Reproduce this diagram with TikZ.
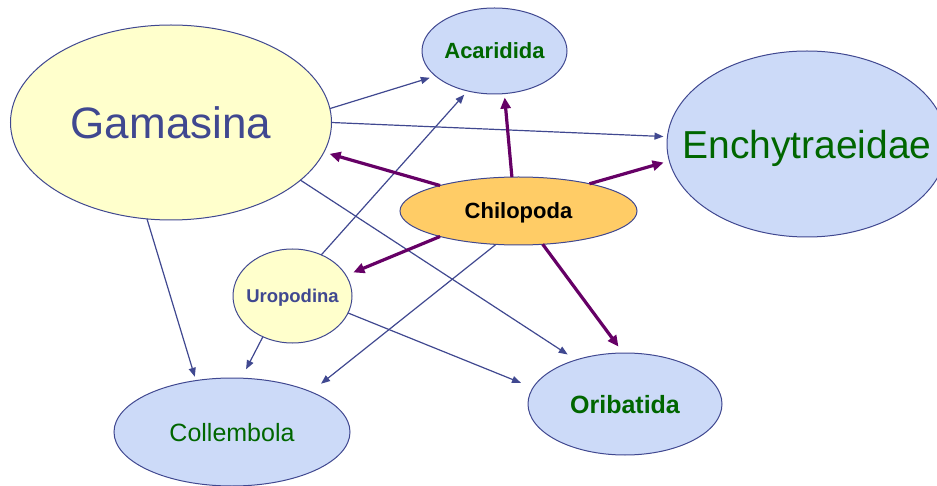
\documentclass[tikz,border=0pt]{standalone}
\usepackage{fontspec}
\setmainfont{Liberation Sans}
\usetikzlibrary{shapes.geometric,arrows.meta}
\definecolor{lineblue}{HTML}{404890}
\definecolor{arrpurple}{HTML}{660066}
\definecolor{fillyellow}{HTML}{FFFFCC}
\definecolor{fillblue}{HTML}{CCDAF8}
\definecolor{fillorange}{HTML}{FFCC66}
\definecolor{txtgreen}{HTML}{006600}
\definecolor{txtblue}{HTML}{404890}
\newcommand{\zw}[1]{\makebox[0pt]{#1}}
\begin{document}
\begin{tikzpicture}[x=1pt,y=-1pt,
  taxon/.style={ellipse, draw=lineblue, line width=1pt, inner sep=0pt, outer sep=0pt, text depth=0pt},
  yellowtaxon/.style={taxon, fill=fillyellow, text=txtblue},
  bluetaxon/.style={taxon, fill=fillblue, text=txtgreen},
  blueedge/.style={draw=lineblue, line width=1.2pt, -{Triangle[length=9pt,width=7pt]}},
  purpleedge/.style={draw=arrpurple, line width=3.2pt, -{Triangle[length=11pt,width=10pt]}}]
\clip (0,0) rectangle (937,486);
\useasboundingbox (0,0) rectangle (937,486);
% nodes
\node[yellowtaxon, minimum width=321pt, minimum height=195pt, font=\fontsize{44}{44}\selectfont] (gam) at (171,122.5) {\zw{Gamasina}};
\node[bluetaxon, minimum width=145pt, minimum height=86pt, font=\fontsize{22}{22}\selectfont\bfseries] (aca) at (494.5,51) {\zw{Acaridida}};
\node[bluetaxon, minimum width=280pt, minimum height=186pt, font=\fontsize{39}{39}\selectfont] (enc) at (807,144) {\zw{Enchytraeidae}};
\node[taxon, fill=fillorange, text=black, minimum width=237pt, minimum height=68pt, font=\fontsize{22}{22}\selectfont\bfseries] (chi) at (518.5,211) {\zw{Chilopoda}};
\node[yellowtaxon, minimum width=119pt, minimum height=94pt, font=\fontsize{18.5}{18.5}\selectfont\bfseries] (uro) at (292.5,296) {\zw{Uropodina}};
\node[bluetaxon, minimum width=236pt, minimum height=108pt, font=\fontsize{25}{25}\selectfont] (col) at (232,432) {\zw{Collembola}};
\node[bluetaxon, minimum width=194pt, minimum height=102pt, font=\fontsize{25}{25}\selectfont\bfseries] (ori) at (625,404) {\zw{Oribatida}};
% blue edges
\draw[blueedge, shorten >=6pt] (gam.5) -- (aca.203);
\draw[blueedge, shorten >=4pt] (gam.0) -- (enc.177);
\draw[blueedge, shorten >=5pt] (uro.55) -- (aca.236);
\draw[blueedge, shorten >=10pt] (gam.336) -- (ori.138);
\draw[blueedge, shorten >=10pt] (uro.234) -- (col.80);
\draw[blueedge, shorten >=13pt] (chi.236) -- (col.27);
\draw[blueedge, shorten >=13pt] (uro.343) -- (ori.170);
\draw[blueedge, shorten >=4pt] (gam.256) -- (col.125);
% purple edges
\draw[purpleedge, shorten >=6pt] (chi.162) -- (gam.349);
\draw[purpleedge, shorten >=4pt] (chi.101) -- (aca.283);
\draw[purpleedge, shorten >=6pt] (chi.21) -- (enc.187);
\draw[purpleedge, shorten >=8pt] (chi.198) -- (uro.21);
\draw[purpleedge, shorten >=8pt] (chi.306) -- (ori.92);
\end{tikzpicture}
\end{document}
